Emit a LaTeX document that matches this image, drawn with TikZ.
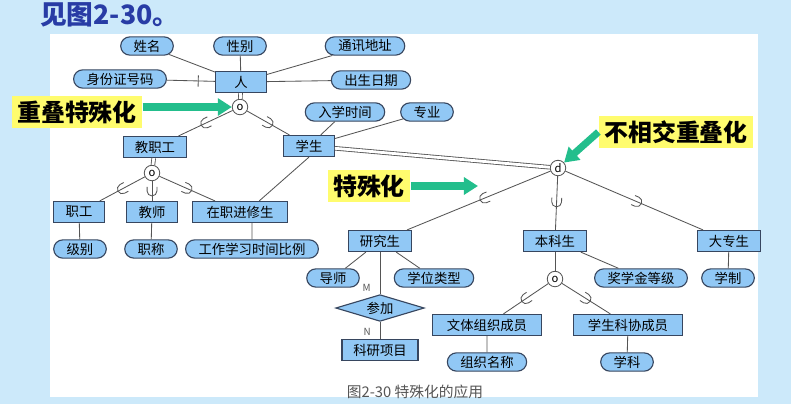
\documentclass[tikz,border=0pt]{standalone}
\usepackage{fontspec}
\setmainfont{Noto Sans CJK SC}
\usetikzlibrary{shapes.geometric,shapes.misc,arrows.meta,decorations.markings}

\definecolor{bgblue}{RGB}{204,233,250}
\definecolor{boxblue}{RGB}{145,200,245}
\definecolor{edgeblue}{RGB}{55,70,95}
\definecolor{linegray}{RGB}{85,85,85}
\definecolor{notey}{RGB}{255,252,110}
\definecolor{arrowgreen}{RGB}{35,190,140}
\definecolor{titleblue}{RGB}{40,60,165}

\tikzset{
  ent/.style={draw=edgeblue,fill=boxblue,line width=0.8pt,minimum height=15pt,minimum width=36pt,
    inner xsep=8pt,inner ysep=0pt,font=\fontsize{9.5}{10}\selectfont},
  attr/.style={rounded rectangle,draw=edgeblue,fill=boxblue,line width=0.8pt,minimum height=13pt,
    inner xsep=7.5pt,inner ysep=0pt,font=\fontsize{9.5}{10}\selectfont},
  rel/.style={diamond,aspect=3.3,draw=edgeblue,fill=boxblue,line width=0.8pt,minimum width=63pt,minimum height=19pt,
    inner sep=0pt,font=\fontsize{9.5}{10}\selectfont},
  spec/.style={circle,draw=linegray,fill=white,line width=0.6pt,minimum size=11pt,inner sep=0pt,
    font=\fontsize{8}{8}\selectfont},
  note/.style={fill=notey,minimum height=21pt,inner xsep=4pt,font=\fontsize{17}{17}\selectfont\bfseries},
  hint/.style={arrowgreen,line width=5pt,-{Triangle[length=10pt,width=12pt]}},
  conn/.style={linegray,line width=0.6pt},
  isa/.style={linegray,line width=0.6pt,double,double distance=2pt},
  subset/.style={postaction={decorate,decoration={markings,mark=at position #1 with
    {\draw[linegray,line width=0.6pt] (-3pt,3.5pt) -- (0,3.5pt) arc[start angle=90,end angle=-90,radius=3.5pt] -- (-3pt,-3.5pt);}}}},
  keytick/.style={postaction={decorate,decoration={markings,mark=at position #1 with
    {\draw[linegray,line width=0.6pt] (0,-4pt) -- (0,4pt);}}}},
  card/.style={text=linegray,font=\fontsize{7}{7}\selectfont}
}

\begin{document}
\begin{tikzpicture}[x=0.025cm,y=-0.025cm]
\useasboundingbox (0,0) rectangle (791,404);
\fill[bgblue] (0,0) rectangle (791,404);
\fill[white] (50,34) rectangle (758,397);

\node[anchor=west,text=titleblue,inner sep=0pt,font=\fontsize{19}{19}\selectfont\bfseries] (title) at (40,15) {见图2-30。};

% person and attributes
\node[ent] (ren) at (241,82) {人};
\node[attr] (xm) at (147,46) {姓名};
\node[attr] (xb) at (240,46) {性别};
\node[attr] (txdz) at (365,46) {通讯地址};
\node[attr] (sfzh) at (120,79) {身份证号码};
\node[attr] (csrq) at (371,80) {出生日期};
\node[spec] (o1) at (240,107) {o};

\draw[conn] (xm) -- (ren);
\draw[conn] (xb) -- (ren);
\draw[conn] (txdz) -- (ren);
\draw[conn,keytick=0.65] (sfzh) -- (ren);
\draw[conn] (csrq) -- (ren);
\draw[isa] (ren) -- (o1);

% staff / student
\node[ent] (jzg) at (155,147) {教职工};
\node[ent] (xs) at (309,146) {学生};
\node[attr] (rxsj) at (345,112) {入学时间};
\node[attr] (zy) at (427,112) {专业};
\draw[conn,subset=0.5] (o1) -- (jzg);
\draw[conn,subset=0.5] (o1) -- (xs);
\draw[conn] (rxsj) -- (xs);
\draw[conn] (zy) -- (xs);

\node[spec] (o2) at (152,173) {o};
\node[ent] (zg) at (79,212) {职工};
\node[ent] (js) at (152,212) {教师};
\node[ent,minimum width=68pt] (zzjxs) at (240,212) {在职进修生};
\node[attr] (jb) at (80,249) {级别};
\node[attr] (zc) at (151,249) {职称};
\node[attr] (gzxx) at (252,249) {工作学习时间比例};
\draw[isa] (jzg) -- (o2);
\draw[conn,subset=0.5] (o2) -- (zg);
\draw[conn,subset=0.5] (o2) -- (js);
\draw[conn,subset=0.5] (o2) -- (zzjxs);
\draw[conn] (xs.south) -- (zzjxs.30);
\draw[conn] (zg) -- (jb);
\draw[conn] (js) -- (zc);
\draw[conn] (zzjxs.south -| gzxx) -- (gzxx);

% disjoint specialization of student
\node[spec] (d) at (558,168) {d};
\node[ent] (yjs) at (380,241) {研究生};
\node[ent] (bks) at (555,241) {本科生};
\node[ent] (dzs) at (729,241) {大专生};
\draw[isa] (xs) -- (d);
\draw[conn,subset=0.46] (d) -- (yjs);
\draw[conn,subset=0.48] (d) -- (bks);
\draw[conn,subset=0.52] (d) -- (dzs);

\node[attr] (ds) at (333,278) {导师};
\node[attr] (xwlx) at (434,278) {学位类型};
\node[rel] (cj) at (380,308) {参加};
\node[ent] (kyxm) at (380,350) {科研项目};
\draw[conn] (yjs) -- (ds);
\draw[conn] (yjs) -- (xwlx);
\draw[conn] (yjs) -- node[card,pos=0.85,left=3pt] {M} (cj);
\draw[conn] (cj) -- node[card,pos=0.6,left=3pt] {N} (kyxm);

\node[spec] (o3) at (555,279) {o};
\node[attr] (jxj) at (641,278) {奖学金等级};
\node[attr] (xz) at (728,278) {学制};
\node[ent,minimum width=78pt] (wtzz) at (487,325) {文体组织成员};
\node[ent,minimum width=78pt] (xskx) at (628,325) {学生科协成员};
\node[attr] (zzmc) at (487,362) {组织名称};
\node[attr] (xk) at (627,362) {学科};
\draw[conn] (bks) -- (o3);
\draw[conn] (bks) -- (jxj);
\draw[conn] (dzs) -- (xz);
\draw[conn,subset=0.5] (o3) -- (wtzz);
\draw[conn,subset=0.5] (o3) -- (xskx);
\draw[conn] (wtzz) -- (zzmc);
\draw[conn] (xskx) -- (xk);

% callouts
\node[note] (n1) at (77,112) {重叠特殊化};
\node[note] (n2) at (676,132) {不相交重叠化};
\node[note] (n3) at (369,186) {特殊化};
\coordinate (t3) at (478,186);
\draw[hint] (n1.east |- o1.west) -- (o1.west);
\draw[hint] (n2.west) -- (d);
\draw[hint] (n3.east) -- (t3);

\node[text=linegray,font=\fontsize{10.5}{11}\selectfont] (cap) at (415,392) {图2-30 特殊化的应用};
\end{tikzpicture}
\end{document}
